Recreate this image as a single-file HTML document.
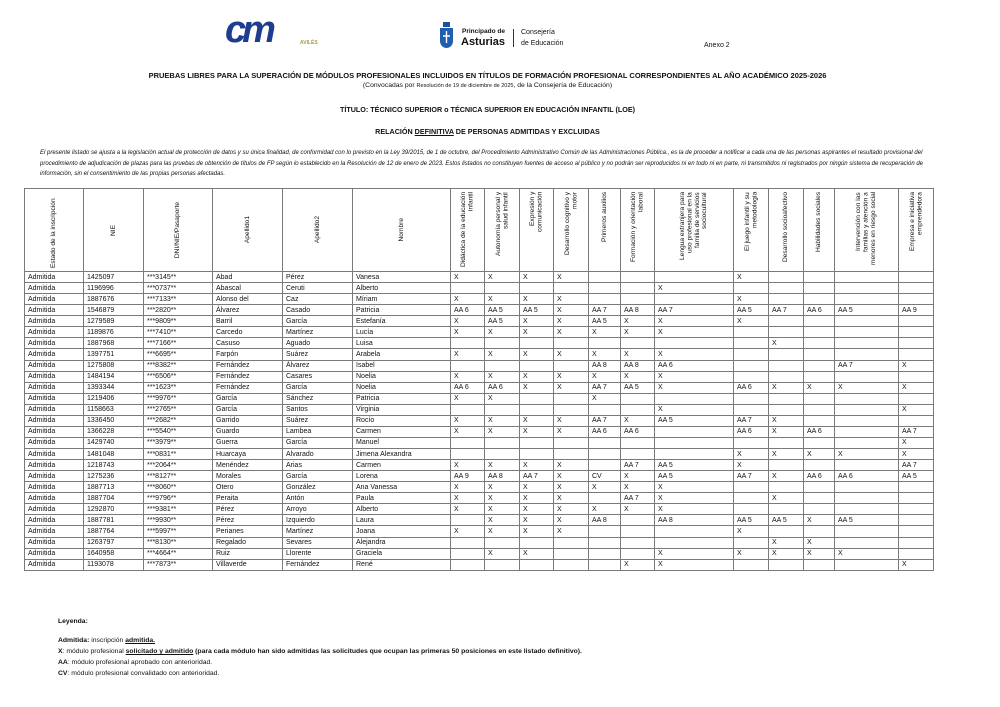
<!DOCTYPE html>
<html><head><meta charset="utf-8"><style>
*{margin:0;padding:0;box-sizing:border-box}
body{width:1000px;height:707px;background:#fff;position:relative;font-family:"Liberation Sans",sans-serif;color:#111;overflow:hidden}
.a{position:absolute;white-space:nowrap}
.c{position:absolute;left:0;width:975px;text-align:center;white-space:nowrap}
table{position:absolute;left:24px;top:188px;border-collapse:collapse;table-layout:fixed;font-size:7px}
td{border:1px solid #7a7a7a;padding:0 0 0 3px;height:11.07px;line-height:9px;overflow:hidden;white-space:nowrap;vertical-align:middle}
th{border:1px solid #7a7a7a;height:82px;font-weight:normal;font-size:6.6px;line-height:7.4px;padding:3px 0;vertical-align:middle}
th div{writing-mode:vertical-rl;transform:rotate(180deg);margin:0 auto;max-height:76px;text-align:center}
th.m div{text-align:right;height:76px}
th.e div{text-align:left;height:76px}
.leg{position:absolute;left:58px;font-size:6.8px;white-space:nowrap}
</style></head><body>
<div class="a" style="left:225px;top:9px;font:italic bold 38px 'Liberation Sans',sans-serif;color:#1f3d8f;letter-spacing:-4px">cm</div>
<div class="a" style="left:300px;top:40px;font-size:5px;color:#a8a040;font-weight:bold">AVILÉS</div>
<svg class="a" style="left:439px;top:22px" width="15" height="27"><rect x="4" y="0" width="7" height="5" fill="#1f4fa0"/><path d="M1 6h13v13c0 4-3 7-6.5 7S1 23 1 19z" fill="#1f5fb0"/><path d="M7.5 9v12M4 14h7" stroke="#fff" stroke-width="1.4"/></svg>
<div class="a" style="left:462px;top:28px;font-size:6.5px;font-weight:bold">Principado de</div>
<div class="a" style="left:461px;top:36px;font-size:11px;font-weight:bold">Asturias</div>
<div class="a" style="left:513px;top:29px;width:1px;height:18px;background:#333"></div>
<div class="a" style="left:521px;top:29px;font-size:7px">Consejería</div>
<div class="a" style="left:521px;top:40px;font-size:7px">de Educación</div>
<div class="a" style="left:704px;top:42px;font-size:7px">Anexo 2</div>
<div class="c" style="top:71px;font-size:7.5px;font-weight:bold">PRUEBAS LIBRES PARA LA SUPERACIÓN DE MÓDULOS PROFESIONALES INCLUIDOS EN TÍTULOS DE FORMACIÓN PROFESIONAL CORRESPONDIENTES AL AÑO ACADÉMICO 2025-2026</div>
<div class="c" style="top:82px;font-size:6.8px">(Convocadas por <span style="font-size:5.5px">Resolución de 19 de diciembre de 2025</span>, de la Consejería de Educación)</div>
<div class="c" style="top:105px;font-size:7.2px;font-weight:bold">TÍTULO: TÉCNICO SUPERIOR o TÉCNICA SUPERIOR EN EDUCACIÓN INFANTIL (LOE)</div>
<div class="c" style="top:127px;font-size:7.2px;font-weight:bold">RELACIÓN <u>DEFINITIVA</u> DE PERSONAS ADMITIDAS Y EXCLUIDAS</div>
<div class="a" style="left:40px;top:148px;width:904px;white-space:normal;font-size:6px;line-height:10.5px;font-style:italic">El presente listado se ajusta a la legislación actual de protección de datos y su única finalidad, de conformidad con lo previsto en la Ley 39/2015, de 1 de octubre, del Procedimiento Administrativo Común de las Administraciones Pública., es la de proceder a notificar a cada una de las personas aspirantes el resultado provisional del procedimiento de adjudicación de plazas para las pruebas de obtención de títulos de FP según lo establecido en la Resolución de 12 de enero de 2023. Estos listados no constituyen fuentes de acceso al público y no podrán ser reproducidos ni en todo ni en parte, ni transmitidos ni registrados por ningún sistema de recuperación de información, sin el consentimiento de las propias personas afectadas.</div>
<table>
<colgroup><col style="width:59px"><col style="width:60px"><col style="width:69px"><col style="width:70px"><col style="width:70px"><col style="width:98px"><col style="width:34px"><col style="width:35px"><col style="width:34px"><col style="width:35px"><col style="width:32px"><col style="width:34px"><col style="width:79px"><col style="width:35px"><col style="width:35px"><col style="width:31px"><col style="width:64px"><col style="width:35px"></colgroup>
<tr><th class="e"><div>Estado de la inscripción</div></th><th><div>NIE</div></th><th><div>DNI/NIE/Pasaporte</div></th><th><div>Apellido1</div></th><th><div>Apellido2</div></th><th><div>Nombre</div></th>
<th class="m"><div>Didáctica de la educación infantil</div></th><th class="m"><div>Autonomía personal y salud infantil</div></th><th class="m"><div>Expresión y comunicación</div></th><th class="m"><div>Desarrollo cognitivo y motor</div></th><th class="m"><div>Primeros auxilios</div></th><th class="m"><div>Formación y orientación laboral</div></th><th class="m"><div>Lengua extranjera para uso profesional en la familia de servicios sociocultural</div></th><th class="m"><div>El juego infantil y su metodología</div></th><th class="m"><div>Desarrollo socioafectivo</div></th><th class="m"><div>Habilidades sociales</div></th><th class="m"><div>Intervención con las familias y atención a menores en riesgo social</div></th><th class="m"><div>Empresa e iniciativa emprendedora</div></th></tr>
<tr><td>Admitida</td><td>1425097</td><td>***3145**</td><td>Abad</td><td>Pérez</td><td>Vanesa</td><td>X</td><td>X</td><td>X</td><td>X</td><td></td><td></td><td></td><td>X</td><td></td><td></td><td></td><td></td></tr>
<tr><td>Admitida</td><td>1196996</td><td>***0737**</td><td>Abascal</td><td>Ceruti</td><td>Alberto</td><td></td><td></td><td></td><td></td><td></td><td></td><td>X</td><td></td><td></td><td></td><td></td><td></td></tr>
<tr><td>Admitida</td><td>1887676</td><td>***7133**</td><td>Alonso del</td><td>Caz</td><td>Míriam</td><td>X</td><td>X</td><td>X</td><td>X</td><td></td><td></td><td></td><td>X</td><td></td><td></td><td></td><td></td></tr>
<tr><td>Admitida</td><td>1546879</td><td>***2820**</td><td>Álvarez</td><td>Casado</td><td>Patricia</td><td>AA 6</td><td>AA 5</td><td>AA 5</td><td>X</td><td>AA 7</td><td>AA 8</td><td>AA 7</td><td>AA 5</td><td>AA 7</td><td>AA 6</td><td>AA 5</td><td>AA 9</td></tr>
<tr><td>Admitida</td><td>1279589</td><td>***9809**</td><td>Barril</td><td>García</td><td>Estefanía</td><td>X</td><td>AA 5</td><td>X</td><td>X</td><td>AA 5</td><td>X</td><td>X</td><td>X</td><td></td><td></td><td></td><td></td></tr>
<tr><td>Admitida</td><td>1189876</td><td>***7410**</td><td>Carcedo</td><td>Martínez</td><td>Lucía</td><td>X</td><td>X</td><td>X</td><td>X</td><td>X</td><td>X</td><td>X</td><td></td><td></td><td></td><td></td><td></td></tr>
<tr><td>Admitida</td><td>1887968</td><td>***7166**</td><td>Casuso</td><td>Aguado</td><td>Luisa</td><td></td><td></td><td></td><td></td><td></td><td></td><td></td><td></td><td>X</td><td></td><td></td><td></td></tr>
<tr><td>Admitida</td><td>1397751</td><td>***6695**</td><td>Farpón</td><td>Suárez</td><td>Arabela</td><td>X</td><td>X</td><td>X</td><td>X</td><td>X</td><td>X</td><td>X</td><td></td><td></td><td></td><td></td><td></td></tr>
<tr><td>Admitida</td><td>1275808</td><td>***8382**</td><td>Fernández</td><td>Álvarez</td><td>Isabel</td><td></td><td></td><td></td><td></td><td>AA 8</td><td>AA 8</td><td>AA 6</td><td></td><td></td><td></td><td>AA 7</td><td>X</td></tr>
<tr><td>Admitida</td><td>1484194</td><td>***6506**</td><td>Fernández</td><td>Casares</td><td>Noelia</td><td>X</td><td>X</td><td>X</td><td>X</td><td>X</td><td>X</td><td>X</td><td></td><td></td><td></td><td></td><td></td></tr>
<tr><td>Admitida</td><td>1393344</td><td>***1623**</td><td>Fernández</td><td>García</td><td>Noelia</td><td>AA 6</td><td>AA 6</td><td>X</td><td>X</td><td>AA 7</td><td>AA 5</td><td>X</td><td>AA 6</td><td>X</td><td>X</td><td>X</td><td>X</td></tr>
<tr><td>Admitida</td><td>1219406</td><td>***9976**</td><td>García</td><td>Sánchez</td><td>Patricia</td><td>X</td><td>X</td><td></td><td></td><td>X</td><td></td><td></td><td></td><td></td><td></td><td></td><td></td></tr>
<tr><td>Admitida</td><td>1158663</td><td>***2765**</td><td>García</td><td>Santos</td><td>Virginia</td><td></td><td></td><td></td><td></td><td></td><td></td><td>X</td><td></td><td></td><td></td><td></td><td>X</td></tr>
<tr><td>Admitida</td><td>1336450</td><td>***2682**</td><td>Garrido</td><td>Suárez</td><td>Rocío</td><td>X</td><td>X</td><td>X</td><td>X</td><td>AA 7</td><td>X</td><td>AA 5</td><td>AA 7</td><td>X</td><td></td><td></td><td></td></tr>
<tr><td>Admitida</td><td>1366228</td><td>***5540**</td><td>Guardo</td><td>Lambea</td><td>Carmen</td><td>X</td><td>X</td><td>X</td><td>X</td><td>AA 6</td><td>AA 6</td><td></td><td>AA 6</td><td>X</td><td>AA 6</td><td></td><td>AA 7</td></tr>
<tr><td>Admitida</td><td>1429740</td><td>***3979**</td><td>Guerra</td><td>García</td><td>Manuel</td><td></td><td></td><td></td><td></td><td></td><td></td><td></td><td></td><td></td><td></td><td></td><td>X</td></tr>
<tr><td>Admitida</td><td>1481048</td><td>***0831**</td><td>Huarcaya</td><td>Alvarado</td><td>Jimena Alexandra</td><td></td><td></td><td></td><td></td><td></td><td></td><td></td><td>X</td><td>X</td><td>X</td><td>X</td><td>X</td></tr>
<tr><td>Admitida</td><td>1218743</td><td>***2064**</td><td>Menéndez</td><td>Arias</td><td>Carmen</td><td>X</td><td>X</td><td>X</td><td>X</td><td></td><td>AA 7</td><td>AA 5</td><td>X</td><td></td><td></td><td></td><td>AA 7</td></tr>
<tr><td>Admitida</td><td>1275236</td><td>***8127**</td><td>Morales</td><td>García</td><td>Lorena</td><td>AA 9</td><td>AA 8</td><td>AA 7</td><td>X</td><td>CV</td><td>X</td><td>AA 5</td><td>AA 7</td><td>X</td><td>AA 6</td><td>AA 6</td><td>AA 5</td></tr>
<tr><td>Admitida</td><td>1887713</td><td>***8060**</td><td>Otero</td><td>González</td><td>Ana Vanessa</td><td>X</td><td>X</td><td>X</td><td>X</td><td>X</td><td>X</td><td>X</td><td></td><td></td><td></td><td></td><td></td></tr>
<tr><td>Admitida</td><td>1887704</td><td>***9796**</td><td>Peraita</td><td>Antón</td><td>Paula</td><td>X</td><td>X</td><td>X</td><td>X</td><td></td><td>AA 7</td><td>X</td><td></td><td>X</td><td></td><td></td><td></td></tr>
<tr><td>Admitida</td><td>1292870</td><td>***9381**</td><td>Pérez</td><td>Arroyo</td><td>Alberto</td><td>X</td><td>X</td><td>X</td><td>X</td><td>X</td><td>X</td><td>X</td><td></td><td></td><td></td><td></td><td></td></tr>
<tr><td>Admitida</td><td>1887781</td><td>***9930**</td><td>Pérez</td><td>Izquierdo</td><td>Laura</td><td></td><td>X</td><td>X</td><td>X</td><td>AA 8</td><td></td><td>AA 8</td><td>AA 5</td><td>AA 5</td><td>X</td><td>AA 5</td><td></td></tr>
<tr><td>Admitida</td><td>1887764</td><td>***5997**</td><td>Perianes</td><td>Martínez</td><td>Joana</td><td>X</td><td>X</td><td>X</td><td>X</td><td></td><td></td><td></td><td>X</td><td></td><td></td><td></td><td></td></tr>
<tr><td>Admitida</td><td>1263797</td><td>***8130**</td><td>Regalado</td><td>Sevares</td><td>Alejandra</td><td></td><td></td><td></td><td></td><td></td><td></td><td></td><td></td><td>X</td><td>X</td><td></td><td></td></tr>
<tr><td>Admitida</td><td>1640958</td><td>***4664**</td><td>Ruiz</td><td>Llorente</td><td>Graciela</td><td></td><td>X</td><td>X</td><td></td><td></td><td></td><td>X</td><td>X</td><td>X</td><td>X</td><td>X</td><td></td></tr>
<tr><td>Admitida</td><td>1193078</td><td>***7873**</td><td>Villaverde</td><td>Fernández</td><td>René</td><td></td><td></td><td></td><td></td><td></td><td>X</td><td>X</td><td></td><td></td><td></td><td></td><td>X</td></tr>
</table>
<div class="leg" style="top:618px;font-weight:bold">Leyenda:</div>
<div class="leg" style="top:637px"><b>Admitida:</b> inscripción <b><u>admitida.</u></b></div>
<div class="leg" style="top:648px"><b>X</b>: módulo profesional <b><u>solicitado y admitido</u> (para cada módulo han sido admitidas las solicitudes que ocupan las primeras 50 posiciones en este listado definitivo).</b></div>
<div class="leg" style="top:659px"><b>AA</b>: módulo profesional aprobado con anterioridad.</div>
<div class="leg" style="top:670px"><b>CV</b>: módulo profesional convalidado con anterioridad.</div>
</body></html>
